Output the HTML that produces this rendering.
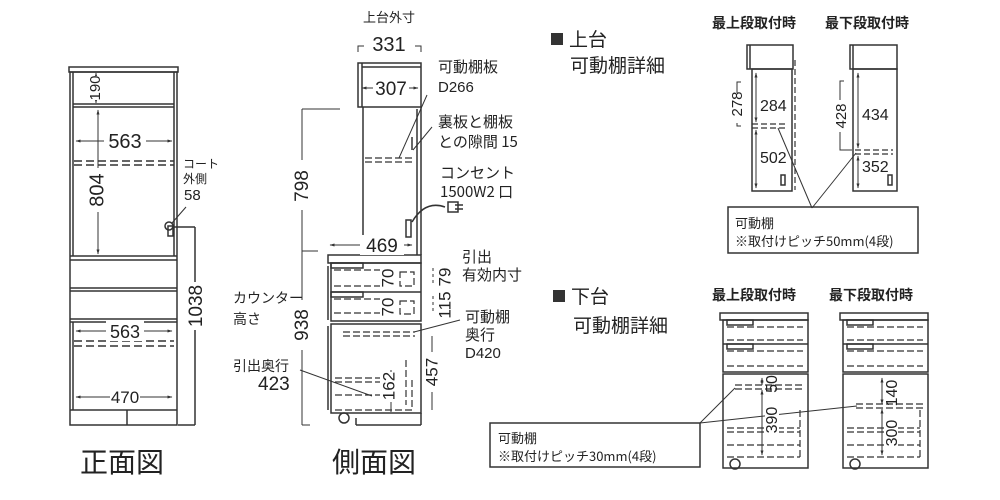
<!DOCTYPE html>
<html><head><meta charset="utf-8"><style>
html,body{margin:0;padding:0;background:#fff;width:1000px;height:500px;overflow:hidden}
svg{display:block}
text{font-family:"Liberation Sans","Noto Sans CJK JP",sans-serif;fill:#222}
.j{font-family:"Noto Sans CJK JP",sans-serif}
.b{font-weight:bold}
</style></head><body>
<svg width="1000" height="500" viewBox="0 0 1000 500" xmlns="http://www.w3.org/2000/svg">
<defs>
<marker id="a" viewBox="0 0 10 10" refX="9" refY="5" markerWidth="5" markerHeight="5" orient="auto-start-reverse"><path d="M0,2 L10,5 L0,8z" fill="#333"/></marker>
</defs>
<g stroke="#333" stroke-width="1.5" fill="none">
<!-- FRONT VIEW -->
<rect x="69" y="67" width="109" height="5"/>
<rect x="70" y="72" width="107" height="353"/>
<line x1="73" y1="72" x2="73" y2="256"/><line x1="174" y1="72" x2="174" y2="256"/>
<line x1="73" y1="104" x2="174" y2="104"/><line x1="73" y1="107" x2="174" y2="107"/>
<line x1="70" y1="256" x2="177" y2="256"/><line x1="70" y1="260" x2="177" y2="260"/>
<line x1="70" y1="288" x2="177" y2="288"/><line x1="70" y1="291" x2="177" y2="291"/>
<line x1="70" y1="319" x2="177" y2="319"/><line x1="70" y1="322" x2="177" y2="322"/>
<line x1="70" y1="410" x2="177" y2="410"/><line x1="127" y1="410" x2="127" y2="425"/>
<line x1="73" y1="322" x2="73" y2="410"/>
<g stroke-dasharray="8,4"><line x1="74" y1="161" x2="174" y2="161"/><line x1="74" y1="165" x2="174" y2="165"/>
<line x1="74" y1="341" x2="174" y2="341"/><line x1="74" y1="346" x2="174" y2="346"/></g>
<circle cx="169" cy="226" r="4"/><rect x="168" y="226" width="5" height="10"/>
<line x1="173" y1="227" x2="195" y2="227"/><line x1="195" y1="227" x2="195" y2="425"/><line x1="178" y1="425" x2="195" y2="425"/>
<line x1="172" y1="223" x2="186" y2="207" stroke-width="1"/>
</g>
<g stroke="#333" stroke-width="1" fill="none" marker-start="url(#a)" marker-end="url(#a)">
<line x1="96" y1="73" x2="96" y2="103"/>
<line x1="76" y1="141" x2="172" y2="141"/>
<line x1="98" y1="110" x2="98" y2="254"/>
<line x1="76" y1="331" x2="172" y2="331"/>
<line x1="76" y1="397" x2="172" y2="397"/>
</g>
<g fill="#fff" stroke="none">
<rect x="86" y="76" width="20" height="24"/><rect x="104" y="131" width="42" height="20"/><rect x="88" y="168" width="20" height="44"/>
<rect x="106" y="321" width="38" height="20"/><rect x="110" y="387" width="30" height="20"/><rect x="189" y="282" width="14" height="48"/>
</g>
<text x="96" y="88" font-size="15" text-anchor="middle" dominant-baseline="middle" transform="rotate(-90 96 88)">190</text>
<text x="125" y="148" font-size="20" text-anchor="middle">563</text>
<text x="98" y="190" font-size="20" text-anchor="middle" dominant-baseline="middle" transform="rotate(-90 98 190)">804</text>
<text x="125" y="338" font-size="18" text-anchor="middle">563</text>
<text x="125" y="403" font-size="17" text-anchor="middle">470</text>
<text x="197" y="306" font-size="19" text-anchor="middle" dominant-baseline="middle" transform="rotate(-90 197 306)">1038</text>
<text x="183" y="168" font-size="12" class="j">コート</text>
<text x="183" y="183" font-size="12" class="j">外側</text>
<text x="184" y="200" font-size="15">58</text>
<text x="80" y="472" font-size="28" class="j">正面図</text>

<!-- SIDE VIEW -->
<g stroke="#333" stroke-width="1.5" fill="none">
<rect x="358" y="63" width="63" height="44"/><line x1="362" y1="67" x2="421" y2="67"/><line x1="362" y1="63" x2="362" y2="107"/>
<line x1="363" y1="107" x2="363" y2="255"/><line x1="421" y1="107" x2="421" y2="255"/><line x1="417" y1="109" x2="417" y2="255"/>
<rect x="328" y="255" width="93" height="8"/>
<rect x="331" y="263" width="90" height="58"/><line x1="331" y1="292" x2="421" y2="292"/>
<rect x="331" y="263" width="32" height="5"/><rect x="331" y="292" width="32" height="5"/>
<line x1="328" y1="266" x2="328" y2="320"/>
<rect x="331" y="324" width="90" height="89"/><line x1="328" y1="326" x2="328" y2="410"/>
<circle cx="344" cy="418" r="5"/><line x1="356" y1="425" x2="421" y2="425"/><line x1="356" y1="418" x2="356" y2="425"/><line x1="421" y1="413" x2="421" y2="425"/>
<rect x="406" y="220" width="5" height="17"/>
<path d="M412,222 Q425,200 445,207"/><rect x="448" y="202" width="10" height="10"/>
<line x1="455" y1="205" x2="463" y2="205"/><line x1="455" y1="209" x2="463" y2="209"/>
<line x1="412" y1="137" x2="412" y2="150"/>
</g>
<g stroke="#333" stroke-width="1.2" fill="none" stroke-dasharray="7,3">
<line x1="365" y1="158" x2="415" y2="158"/><line x1="365" y1="162" x2="415" y2="162"/>
<line x1="334" y1="270" x2="380" y2="270"/><line x1="334" y1="286" x2="380" y2="286"/><line x1="334" y1="299" x2="380" y2="299"/><line x1="334" y1="313" x2="380" y2="313"/>
<rect x="400" y="272" width="14" height="14"/><rect x="400" y="301" width="14" height="13"/>
<line x1="343" y1="332" x2="415" y2="332"/><line x1="343" y1="336" x2="415" y2="336"/>
<line x1="335" y1="378" x2="380" y2="378"/><line x1="335" y1="382" x2="380" y2="382"/><line x1="335" y1="395" x2="380" y2="395"/><line x1="335" y1="410" x2="412" y2="410"/>
<line x1="412" y1="380" x2="412" y2="410"/><line x1="406" y1="360" x2="406" y2="405"/>
</g>
<g stroke="#333" stroke-width="1" fill="none">
<path d="M358,52 V46 H364 M421,52 V46 H415"/>
<line x1="302" y1="109" x2="302" y2="425"/><line x1="302" y1="109" x2="340" y2="109"/><line x1="302" y1="251" x2="318" y2="251"/><line x1="302" y1="425" x2="310" y2="425"/>
<line x1="399" y1="158" x2="427" y2="95"/><line x1="413" y1="150" x2="432" y2="127"/>
<line x1="300" y1="370" x2="372" y2="396"/>
<line x1="414" y1="332" x2="460" y2="320"/>
<line x1="391" y1="370" x2="391" y2="412"/>
<line x1="433" y1="268" x2="433" y2="285" stroke-dasharray="3,3"/><line x1="433" y1="296" x2="433" y2="312" stroke-dasharray="3,3"/>
<line x1="432" y1="336" x2="432" y2="410"/>
</g>
<g stroke="#333" stroke-width="1" marker-start="url(#a)" marker-end="url(#a)">
<line x1="362" y1="88" x2="418" y2="88"/>
<line x1="330" y1="245" x2="412" y2="245"/>
</g>
<rect x="373" y="78" width="36" height="20" fill="#fff"/><rect x="360" y="235" width="44" height="20" fill="#fff"/>
<rect x="295" y="160" width="14" height="50" fill="#fff"/><rect x="295" y="300" width="14" height="50" fill="#fff"/>
<rect x="426" y="352" width="14" height="40" fill="#fff"/>
<rect x="382" y="266" width="14" height="24" fill="#fff"/><rect x="382" y="295" width="14" height="24" fill="#fff"/><rect x="383" y="372" width="14" height="30" fill="#fff"/>
<text x="389" y="22" font-size="13" text-anchor="middle" class="j">上台外寸</text>
<text x="389" y="51" font-size="20" text-anchor="middle">331</text>
<text x="391" y="95" font-size="19" text-anchor="middle">307</text>
<text x="382" y="252" font-size="19" text-anchor="middle">469</text>
<text x="303" y="186" font-size="19" text-anchor="middle" dominant-baseline="middle" transform="rotate(-90 303 186)">798</text>
<text x="303" y="325" font-size="19" text-anchor="middle" dominant-baseline="middle" transform="rotate(-90 303 325)">938</text>
<text x="438" y="72" font-size="15" class="j">可動棚板</text>
<text x="438" y="92" font-size="15">D266</text>
<text x="438" y="127" font-size="15" class="j">裏板と棚板</text>
<text x="438" y="147" font-size="15" class="j">との隙間 15</text>
<text x="440" y="178" font-size="15" class="j">コンセント</text>
<text x="440" y="197" font-size="15" class="j">1500W2 口</text>
<text x="462" y="262" font-size="15" class="j">引出</text>
<text x="462" y="280" font-size="15" class="j">有効内寸</text>
<text x="465" y="322" font-size="15" class="j">可動棚</text>
<text x="465" y="340" font-size="15" class="j">奥行</text>
<text x="465" y="358" font-size="15">D420</text>
<text x="233" y="303" font-size="14" class="j">カウンター</text>
<text x="233" y="324" font-size="14" class="j">高さ</text>
<text x="233" y="371" font-size="14" class="j">引出奥行</text>
<text x="258" y="390" font-size="19">423</text>
<g font-size="17" text-anchor="middle" dominant-baseline="middle">
<text x="389" y="278" transform="rotate(-90 389 278)">70</text>
<text x="389" y="307" transform="rotate(-90 389 307)">70</text>
<text x="446" y="277" transform="rotate(-90 446 277)">79</text>
<text x="446" y="305" transform="rotate(-90 446 305)">115</text>
<text x="390" y="386" transform="rotate(-90 390 386)">162</text>
<text x="433" y="372" transform="rotate(-90 433 372)">457</text>
</g>
<text x="332" y="472" font-size="28" class="j">側面図</text>

<!-- UPPER DETAIL -->
<rect x="551" y="33" width="12" height="12" fill="#333"/>
<text x="569" y="46" font-size="19" class="j">上台</text>
<text x="570" y="72" font-size="19" class="j">可動棚詳細</text>
<text x="712" y="28" font-size="14" class="j b">最上段取付時</text>
<text x="825" y="28" font-size="14" class="j b">最下段取付時</text>
<g stroke="#333" stroke-width="1.5" fill="none">
<rect x="747" y="45" width="46" height="24"/><line x1="750" y1="45" x2="750" y2="69"/>
<rect x="752" y="69" width="40" height="122"/>
<rect x="850" y="45" width="47" height="24"/><line x1="853" y1="45" x2="853" y2="69"/>
<rect x="853" y="69" width="44" height="122"/>
<rect x="781" y="175" width="4" height="10"/><rect x="888" y="175" width="4" height="10"/>
<rect x="728" y="207" width="190" height="46"/>
</g>
<g stroke="#333" stroke-width="1.2" stroke-dasharray="6,3" fill="none">
<line x1="752" y1="124" x2="788" y2="124"/><line x1="752" y1="128" x2="788" y2="128"/>
<line x1="855" y1="150" x2="893" y2="150"/><line x1="855" y1="154" x2="893" y2="154"/>
<line x1="795" y1="60" x2="795" y2="190"/>
</g>
<g stroke="#333" stroke-width="1" fill="none">
<path d="M741,82 H737 V126 H741"/><path d="M844,81 H840 V150 H852"/>
<line x1="778" y1="128" x2="812" y2="208"/><line x1="856" y1="153" x2="812" y2="208"/>
</g>
<g stroke="#333" stroke-width="1" marker-start="url(#a)" marker-end="url(#a)">
<line x1="756" y1="73" x2="756" y2="122"/><line x1="756" y1="130" x2="756" y2="188"/>
<line x1="858" y1="73" x2="858" y2="148"/><line x1="858" y1="156" x2="858" y2="188"/>
</g>
<rect x="733" y="93" width="10" height="30" fill="#fff"/><rect x="836" y="100" width="10" height="32" fill="#fff"/>
<text x="760" y="111" font-size="16">284</text>
<text x="760" y="163" font-size="16">502</text>
<text x="862" y="120" font-size="16">434</text>
<text x="862" y="172" font-size="16">352</text>
<text x="738" y="104" font-size="15" text-anchor="middle" dominant-baseline="middle" transform="rotate(-90 738 104)">278</text>
<text x="842" y="116" font-size="15" text-anchor="middle" dominant-baseline="middle" transform="rotate(-90 842 116)">428</text>
<text x="735" y="228" font-size="13" class="j">可動棚</text>
<text x="735" y="246" font-size="13" class="j">※取付けピッチ50mm(4段)</text>

<!-- LOWER DETAIL -->
<rect x="553" y="290" width="12" height="12" fill="#333"/>
<text x="571" y="303" font-size="19" class="j">下台</text>
<text x="573" y="332" font-size="19" class="j">可動棚詳細</text>
<text x="712" y="300" font-size="14" class="j b">最上段取付時</text>
<text x="829" y="300" font-size="14" class="j b">最下段取付時</text>
<g stroke="#333" stroke-width="1.5" fill="none">
<rect x="720" y="313" width="88" height="7"/><rect x="723" y="320" width="85" height="52"/><line x1="723" y1="344" x2="808" y2="344"/>
<rect x="727" y="320" width="26" height="5"/><rect x="727" y="344" width="26" height="5"/>
<rect x="723" y="374" width="85" height="94"/><circle cx="735" cy="464" r="5"/>
<rect x="840" y="313" width="88" height="7"/><rect x="843" y="320" width="85" height="52"/><line x1="843" y1="344" x2="928" y2="344"/>
<rect x="847" y="320" width="26" height="5"/><rect x="847" y="344" width="26" height="5"/>
<rect x="843" y="374" width="85" height="94"/><circle cx="855" cy="464" r="5"/>
<rect x="490" y="423" width="210" height="44"/>
</g>
<g stroke="#333" stroke-width="1.2" stroke-dasharray="7,3" fill="none">
<line x1="727" y1="327" x2="803" y2="327"/><line x1="727" y1="340" x2="803" y2="340"/><line x1="727" y1="351" x2="803" y2="351"/><line x1="727" y1="366" x2="803" y2="366"/>
<line x1="735" y1="385" x2="805" y2="385"/><line x1="735" y1="389" x2="805" y2="389"/>
<line x1="727" y1="428" x2="800" y2="428"/><line x1="727" y1="432" x2="800" y2="432"/><line x1="727" y1="445" x2="800" y2="445"/><line x1="727" y1="457" x2="800" y2="457"/>
<line x1="847" y1="327" x2="923" y2="327"/><line x1="847" y1="340" x2="923" y2="340"/><line x1="847" y1="351" x2="923" y2="351"/><line x1="847" y1="366" x2="923" y2="366"/>
<line x1="856" y1="404" x2="925" y2="404"/><line x1="856" y1="408" x2="925" y2="408"/>
<line x1="847" y1="428" x2="920" y2="428"/><line x1="847" y1="432" x2="920" y2="432"/><line x1="847" y1="445" x2="920" y2="445"/><line x1="847" y1="457" x2="920" y2="457"/>
<line x1="800" y1="410" x2="800" y2="457"/><line x1="920" y1="410" x2="920" y2="457"/>
</g>
<g stroke="#333" stroke-width="1" fill="none">
<line x1="735" y1="388" x2="700" y2="423"/><line x1="700" y1="423" x2="857" y2="406"/>
</g>
<g stroke="#333" stroke-width="1" marker-start="url(#a)" marker-end="url(#a)">
<line x1="762" y1="378" x2="762" y2="385"/><line x1="762" y1="390" x2="762" y2="455"/>
<line x1="882" y1="378" x2="882" y2="404"/><line x1="882" y1="409" x2="882" y2="455"/>
</g>
<rect x="765" y="405" width="14" height="30" fill="#fff"/><rect x="884" y="420" width="14" height="30" fill="#fff"/>
<g font-size="16" text-anchor="middle" dominant-baseline="middle">
<text x="773" y="384" transform="rotate(-90 773 384)">50</text>
<text x="773" y="420" transform="rotate(-90 773 420)">390</text>
<text x="893" y="393" transform="rotate(-90 893 393)">140</text>
<text x="893" y="433" transform="rotate(-90 893 433)">300</text>
</g>
<text x="498" y="443" font-size="13" class="j">可動棚</text>
<text x="498" y="461" font-size="13" class="j">※取付けピッチ30mm(4段)</text>
</svg>
</body></html>
